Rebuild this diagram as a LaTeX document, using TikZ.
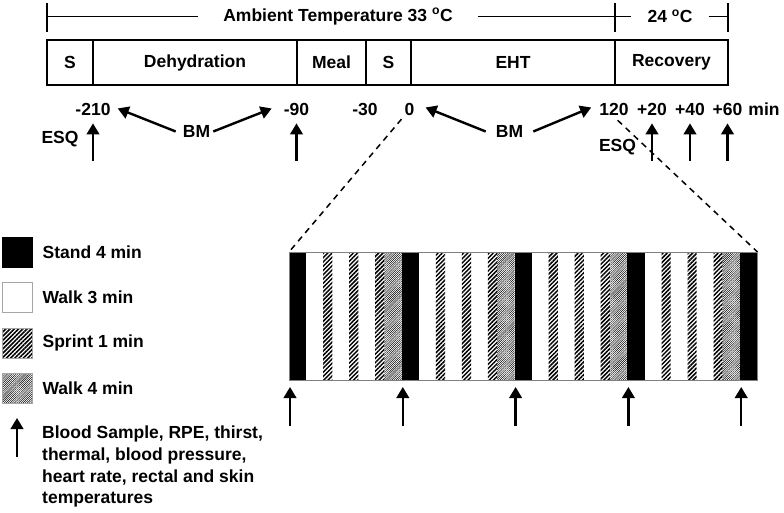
\documentclass[tikz,border=0pt]{standalone}
\usepackage{fontspec}
\setmainfont{Liberation Sans}
\usepackage{tikz}
\usetikzlibrary{arrows.meta,positioning,patterns.meta}
\tikzset{
    phase/.style={
        rectangle,
        draw,
        line width=2pt,
        minimum height=45pt,
        inner sep=0pt,
        outer sep=0pt
    },
    tick/.style={anchor=base},
    bigarrow/.style={-{Triangle[width=12.5pt,length=11pt]}, line width=2.4pt},
    zoomline/.style={dash pattern=on 6pt off 5pt, line width=1.5pt},
    templine/.style={line width=1.5pt},
    standbar/.style={fill=black},
    sprintbar/.style={pattern={Lines[angle=45,distance=3pt,line width=1.5pt]}},
    walkbar/.style={pattern={Lines[angle=45,distance=1.5pt,line width=0.45pt]}},
    swatch/.style={draw=gray!70, line width=0.8pt, minimum size=30pt, inner sep=0pt}
}

\begin{document}
\begin{tikzpicture}[x=1pt, y=-1pt, node distance=9pt,
    font=\bfseries\fontsize{17.5}{21.7}\selectfont,
    every node/.style={inner sep=1pt}]
    \useasboundingbox (0,0) rectangle (784,513);

    % temperature bar
    \coordinate (tkA) at (47,16.5);
    \coordinate (tkB) at (615,16.5);
    \coordinate (tkC) at (728,16.5);
    \node (amb) [inner xsep=25pt] at (338,16.5) {Ambient Temperature 33 \textsuperscript{o}C};
    \node (cool) [inner xsep=16pt] at (670,16.5) {24 \textsuperscript{o}C};
    \draw[templine] (tkA) -- (amb);
    \draw[templine] (amb) -- (tkB) -- (cool);
    \draw[templine] (cool) -- (tkC);
    \foreach \t in {tkA,tkB,tkC}
        \draw[templine] ([yshift=13.5pt]\t) -- ([yshift=-15.5pt]\t);

    % phases
    \node (s1) [phase, minimum width=46pt, anchor=west] at (47,62.5) {S};
    \node (dehyd) [phase, minimum width=204pt, right=0pt of s1] {Dehydration};
    \node (meal) [phase, minimum width=69pt, right=0pt of dehyd] {Meal};
    \node (s2) [phase, minimum width=45pt, right=0pt of meal] {S};
    \node (eht) [phase, minimum width=204pt, right=0pt of s2] {EHT};
    \node (recov) [phase, minimum width=113pt, right=0pt of eht] {Recovery};

    % time points
    \node (m210) [tick] at (93,115.5) {-210};
    \node (m90) [tick] at (296.5,115.5) {-90};
    \node (m30) [tick] at (365,115.5) {-30};
    \node (z0) [tick] at (409.5,115.5) {0};
    \node (p120) [tick] at (614,115.5) {120};
    \node (p20) [tick] at (652,115.5) {+20};
    \node (p40) [tick] at (690,115.5) {+40};
    \node (p60) [tick] at (727.5,115.5) {+60};
    \node (unit) [tick] at (764,115.5) {min};

    \node (bm1) at (196.5,131.5) {BM};
    \node (bm2) at (509.5,131.5) {BM};
    \draw[bigarrow] ([xshift=-6pt]bm1.west) -- ([xshift=6pt,yshift=1pt]m210.east);
    \draw[bigarrow] ([xshift=2pt]bm1.east) -- ([xshift=-11pt,yshift=1pt]m90.west);
    \draw[bigarrow] ([xshift=-9pt]bm2.west) -- ([xshift=10pt,yshift=2pt]z0.east);
    \draw[bigarrow] ([xshift=9pt]bm2.east) -- ([xshift=-7pt,yshift=2pt]p120.west);

    \node (esq1) at (60,139) {ESQ};
    \node (esq2) at (617.5,147) {ESQ};
    \coordinate (q210) at (93,161);
    \coordinate (q90) at (296.5,161);
    \coordinate (q20) at (652,161);
    \coordinate (q40) at (690,161);
    \coordinate (q60) at (727.5,161);
    \foreach \q/\t in {q210/m210,q90/m90,q20/p20,q40/p40,q60/p60}
        \draw[bigarrow, shorten >=6.5pt] (\q) -- (\t);

    % EHT detail
    \coordinate (stripNW) at (289,252);
    \coordinate (stripNE) at (757.5,252);
    \draw[zoomline, shorten <=3pt] (z0.south west) -- (stripNW);
    \draw[zoomline, shorten <=5pt] (p120.south) -- (stripNE);

    \foreach \k in {0,...,4}{
        \pgfmathsetmacro{\xs}{289+112.8*\k}
        \fill[standbar] (\xs,252) rectangle ++(17.3,128);
        \coordinate (smp\k) at ({\xs+1},426);
        \coordinate (bar\k) at ({\xs+1},387);
        \draw[bigarrow] (smp\k) -- (bar\k);
    }
    \foreach \k in {0,...,3}{
        \pgfmathsetmacro{\xs}{289+112.8*\k}
        \foreach \o in {34.1,60.1,86.1}
            \path[sprintbar] ({\xs+\o},252) rectangle ++(9.2,128);
        \path[walkbar] ({\xs+95.3},252) rectangle ++(17.5,128);
    }
    \draw[gray, line width=0.8pt] (stripNW) rectangle (757.5,380);

    % legend
    \node (kStand) [swatch, fill=black, draw=black] at (17,252) {};
    \node (kWalk3) [swatch] at (17,297) {};
    \node (kSprint) [swatch, sprintbar] at (17,343) {};
    \node (kWalk4) [swatch, walkbar] at (17,388) {};
    \node (lStand) [right=of kStand] {Stand 4 min};
    \node (lWalk3) [right=of kWalk3] {Walk 3 min};
    \node (lSprint) [right=of kSprint] {Sprint 1 min};
    \node (lWalk4) [right=of kWalk4] {Walk 4 min};

    \coordinate (kArrA) at (17,457);
    \coordinate (kArrB) at (17,418);
    \draw[bigarrow] (kArrA) -- (kArrB);
    \node (kText) [anchor=north west, align=left, inner sep=0pt] at (42,426)
        {Blood Sample, RPE, thirst,\\thermal, blood pressure,\\heart rate, rectal and skin\\temperatures};
\end{tikzpicture}
\end{document}
